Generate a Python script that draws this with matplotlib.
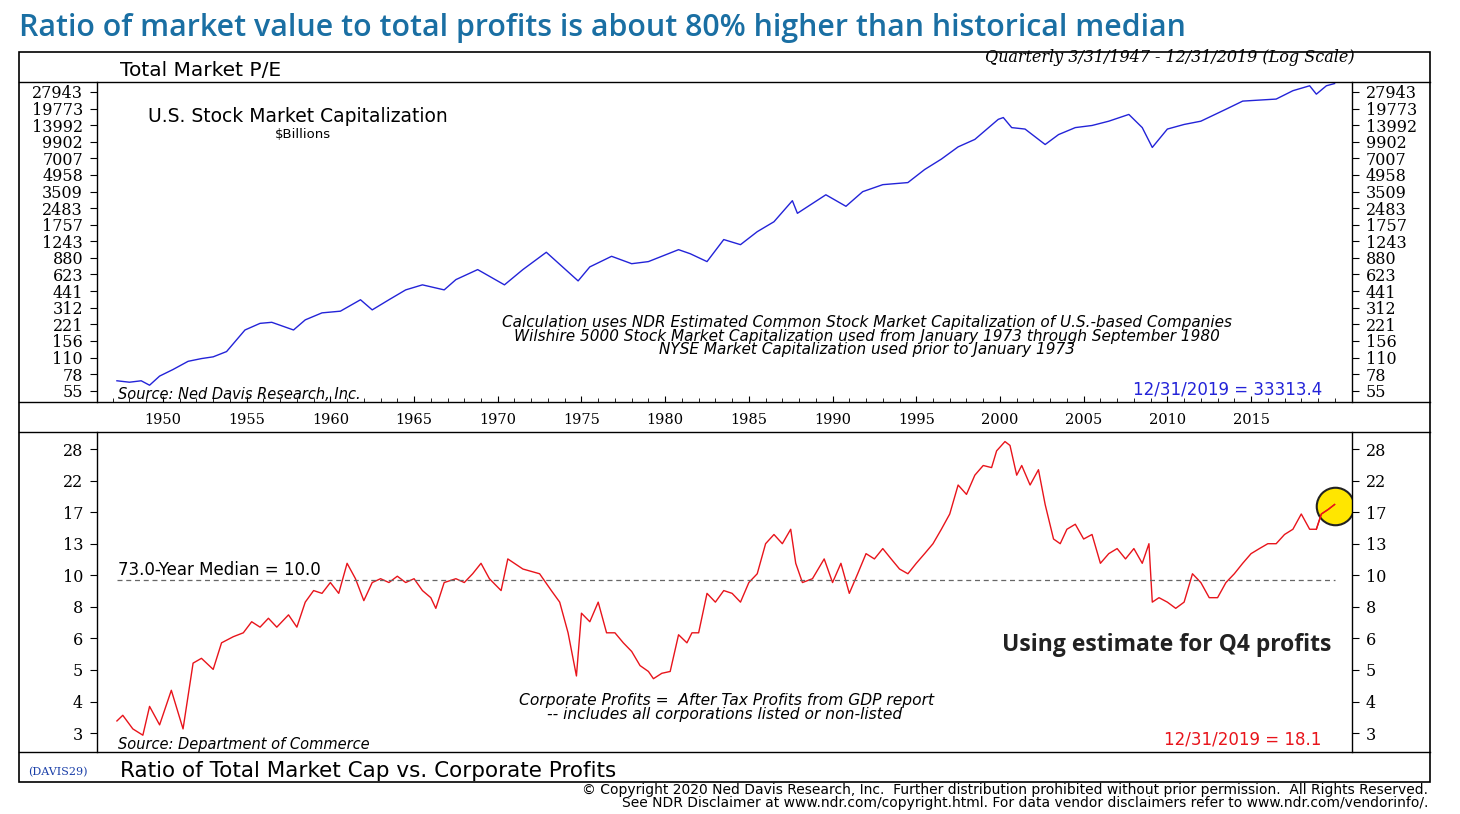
import matplotlib.pyplot as plt
from matplotlib.lines import Line2D
from matplotlib.patches import Rectangle

# U.S. stock market capitalization, $ billions
cap_years = [1947.25, 1948.0, 1948.7, 1949.2, 1949.8, 1950.6, 1951.5, 1952.3, 1953.0, 1953.8,
             1954.9, 1955.8, 1956.5, 1957.8, 1958.5, 1959.5, 1960.6, 1961.8, 1962.5, 1963.5,
             1964.5, 1965.5, 1966.8, 1967.5, 1968.8, 1970.4, 1971.5, 1972.9, 1973.5, 1974.8,
             1975.5, 1976.8, 1978.0, 1979.0, 1980.8, 1981.5, 1982.5, 1983.5, 1984.5, 1985.5,
             1986.5, 1987.6, 1987.9, 1989.6, 1990.8, 1991.8, 1993.0, 1994.5, 1995.5, 1996.5,
             1997.5, 1998.5, 1999.9, 2000.2, 2000.7, 2001.5, 2002.7, 2003.5, 2004.5, 2005.5,
             2006.5, 2007.7, 2008.5, 2009.1, 2010.0, 2011.0, 2012.0, 2013.5, 2014.5, 2015.5,
             2016.5, 2017.5, 2018.5, 2018.9, 2019.5, 2019.99]
cap_values = [68, 66, 68, 62, 75, 86, 102, 108, 112, 125,
              196, 225, 230, 196, 242, 280, 290, 368, 298, 368,
              452, 502, 452, 560, 690, 502, 690, 990, 820, 545,
              730, 910, 780, 815, 1045, 960, 815, 1290, 1160, 1520,
              1870, 2900, 2230, 3280, 2580, 3500, 4050, 4230, 5550, 6900,
              8900, 10400, 15800, 16400, 13300, 12900, 9350, 11500, 13300, 13900,
              15200, 17500, 13300, 8800, 12900, 14200, 15200, 19500, 23100, 23600,
              24100, 28700, 31800, 26700, 31800, 33313]

# Ratio of total market cap to corporate profits
pe_years = [1947.25, 1947.6, 1948.2, 1948.8, 1949.2, 1949.8, 1950.5, 1951.2, 1951.8, 1952.3,
            1953.0, 1953.5, 1954.2, 1954.8, 1955.3, 1955.8, 1956.3, 1956.8, 1957.5, 1958.0,
            1958.5, 1959.0, 1959.5, 1960.0, 1960.5, 1961.0, 1961.5, 1962.0, 1962.5, 1963.0,
            1963.5, 1964.0, 1964.5, 1965.0, 1965.5, 1966.0, 1966.3, 1966.8, 1967.5, 1968.0,
            1968.5, 1969.0, 1969.5, 1970.2, 1970.6, 1971.5, 1972.5, 1973.2, 1973.7, 1974.2,
            1974.7, 1975.0, 1975.5, 1976.0, 1976.5, 1977.0, 1977.5, 1978.0, 1978.5, 1979.0,
            1979.3, 1979.8, 1980.3, 1980.8, 1981.3, 1981.6, 1982.0, 1982.5, 1983.0, 1983.5,
            1984.0, 1984.5, 1985.0, 1985.5, 1986.0, 1986.5, 1987.0, 1987.5, 1987.8, 1988.2,
            1988.8, 1989.5, 1990.0, 1990.5, 1991.0, 1991.5, 1992.0, 1992.5, 1993.0, 1993.5,
            1994.0, 1994.5, 1995.0, 1995.5, 1996.0, 1996.5, 1997.0, 1997.5, 1998.0, 1998.5,
            1999.0, 1999.5, 1999.8, 2000.3, 2000.6, 2001.0, 2001.3, 2001.8, 2002.3, 2002.7,
            2003.2, 2003.6, 2004.0, 2004.5, 2005.0, 2005.5, 2006.0, 2006.5, 2007.0, 2007.5,
            2008.0, 2008.5, 2008.9, 2009.1, 2009.5, 2010.0, 2010.5, 2011.0, 2011.5, 2012.0,
            2012.5, 2013.0, 2013.5, 2014.0, 2014.5, 2015.0, 2015.5, 2016.0, 2016.5, 2017.0,
            2017.5, 2018.0, 2018.5, 2018.9, 2019.2, 2019.6, 2019.99]
pe_values = [3.3, 3.45, 3.1, 2.95, 3.7, 3.2, 4.2, 3.1, 5.2, 5.4,
             4.95, 6.1, 6.4, 6.6, 7.2, 6.9, 7.4, 6.9, 7.6, 6.9,
             8.4, 9.2, 9.0, 9.8, 9.0, 11.4, 10.1, 8.5, 9.8, 10.1,
             9.8, 10.3, 9.8, 10.1, 9.2, 8.7, 8.0, 9.8, 10.1, 9.8,
             10.5, 11.4, 10.1, 9.2, 11.8, 10.9, 10.5, 9.2, 8.4, 6.6,
             4.7, 7.7, 7.2, 8.4, 6.6, 6.6, 6.1, 5.7, 5.1, 4.87,
             4.6, 4.8, 4.87, 6.5, 6.1, 6.6, 6.6, 9.0, 8.4, 9.2,
             9.0, 8.4, 9.8, 10.5, 13.3, 14.3, 13.3, 14.9, 11.4, 9.8,
             10.1, 11.8, 9.8, 11.4, 9.0, 10.5, 12.3, 11.8, 12.8, 11.8,
             10.9, 10.5, 11.4, 12.3, 13.3, 14.9, 16.8, 21.1, 19.6, 22.8,
             24.6, 24.2, 27.6, 29.7, 28.8, 22.8, 24.6, 21.1, 23.8, 18.1,
             13.8, 13.3, 14.9, 15.5, 13.8, 14.3, 11.4, 12.3, 12.8, 11.8,
             12.8, 11.4, 13.3, 8.4, 8.7, 8.4, 8.0, 8.4, 10.5, 9.8,
             8.7, 8.7, 9.8, 10.5, 11.4, 12.3, 12.8, 13.3, 13.3, 14.3,
             14.9, 16.8, 14.9, 14.9, 16.8, 17.4, 18.1]

year_ticks = [1950, 1955, 1960, 1965, 1970, 1975, 1980, 1985, 1990, 1995, 2000, 2005, 2010, 2015]
cap_ticks = [55, 78, 110, 156, 221, 312, 441, 623, 880, 1243, 1757, 2483, 3509, 4958, 7007,
             9902, 13992, 19773, 27943]
pe_tick_labels = ["3", "4", "5", "6", "8", "10", "13", "17", "22", "28"]

W, H = 1460, 814
fig = plt.figure(figsize=(W / 100, H / 100), dpi=100)
serif = "DejaVu Serif"
sans = "DejaVu Sans"


def fx(px):
    return px / W


def fy(py):
    return 1 - py / H


xlim = (1946.06, 2021.03)
ax1 = fig.add_axes([fx(97), fy(402), fx(1255), 320 / H])
ax2 = fig.add_axes([fx(97), fy(752), fx(1255), 320 / H])

# top panel
ax1.plot(cap_years, cap_values, color="#2323d8", lw=1.0)
ax1.set_yscale("log")
ax1.set_ylim(43.7, 34400)
ax1.set_yticks(cap_ticks)
ax1.set_yticklabels([str(t) for t in cap_ticks])
ax1.minorticks_off()
ax1.set_xlim(*xlim)
ax1.set_xticks(year_ticks)
ax1.set_xticks(range(1947, 2021), minor=True)
ax1.tick_params(axis="x", which="both", direction="in", pad=8, labelsize=10.5, length=4)
ax1.tick_params(axis="x", which="minor", length=3)
for lab in ax1.get_xticklabels():
    lab.set_fontfamily(serif)

# bottom panel
r = (28 / 3) ** (1 / 9)
ax2.plot(pe_years, pe_values, color="#e8141b", lw=1.0)
ax2.plot([1947.25, 2019.99], [10.0, 10.0], color="#666666", lw=0.9, ls=(0, (4, 3)))
ax2.set_yscale("log")
ax2.set_ylim(3 * r ** (-0.6), 3 * r ** 9.54)
ax2.set_yticks([3 * r ** k for k in range(10)])
ax2.set_yticklabels(pe_tick_labels)
ax2.minorticks_off()
ax2.set_xlim(*xlim)
ax2.set_xticks([])
ax2.plot([2020.0], [17.9], "o", ms=27, mfc="#ffe600", mec="#222222", mew=1.5, zorder=1)
ax2.plot(pe_years[-4:], pe_values[-4:], color="#e8141b", lw=1.0, zorder=2)

for ax in (ax1, ax2):
    ax.tick_params(axis="y", which="both", left=True, right=True, labelleft=True,
                   labelright=True, direction="out", length=5, labelsize=11.5, pad=5)
    for lab in ax.get_yticklabels():
        lab.set_fontfamily(serif)
    for s in ax.spines.values():
        s.set_visible(False)
    ax.patch.set_alpha(0)

# frame lines
fig.add_artist(Rectangle((fx(19), fy(782)), fx(1411), (782 - 52) / H, transform=fig.transFigure,
                         fill=False, lw=1.2, ec="black"))
for py in (82, 402, 432, 752):
    fig.add_artist(Line2D([fx(19), fx(1430)], [fy(py), fy(py)], color="black", lw=1.0))
for px in (97, 1352):
    for y0, y1 in ((82, 402), (432, 752)):
        fig.add_artist(Line2D([fx(px), fx(px)], [fy(y0), fy(y1)], color="black", lw=1.0))

# texts
fig.text(fx(19), fy(28), "Ratio of market value to total profits is about 80% higher than historical median",
         color="#1a6fa3", fontsize=21.9, fontfamily="Open Sans", fontweight="semibold", va="center")
fig.text(fx(120), fy(70), "Total Market P/E", fontsize=14.5, fontfamily=sans, va="center")
fig.text(fx(1355), fy(58), "Quarterly 3/31/1947 - 12/31/2019 (Log Scale)", fontsize=11.5,
         fontfamily=serif, style="italic", ha="right", va="center")
fig.text(fx(148), fy(117), "U.S. Stock Market Capitalization", fontsize=13.5, fontfamily=sans, va="center")
fig.text(fx(303), fy(134), "$Billions", fontsize=9.5, fontfamily=sans, ha="center", va="center")
for i, t in enumerate(["Calculation uses NDR Estimated Common Stock Market Capitalization of U.S.-based Companies",
                       "Wilshire 5000 Stock Market Capitalization used from January 1973 through September 1980",
                       "NYSE Market Capitalization used prior to January 1973"]):
    fig.text(fx(867), fy(322 + 14 * i), t, fontsize=11, fontfamily=sans, style="italic",
             ha="center", va="center")
fig.text(fx(118), fy(394), "Source: Ned Davis Research, Inc.", fontsize=10.5, fontfamily=sans,
         style="italic", va="center")
fig.text(fx(1322), fy(390), "12/31/2019 = 33313.4", fontsize=12, fontfamily=sans, color="#2323d8",
         ha="right", va="center")
fig.text(fx(118), fy(570), "73.0-Year Median = 10.0", fontsize=12, fontfamily=sans, va="center")
fig.text(fx(1331), fy(645), "Using estimate for Q4 profits", fontsize=16.5, fontfamily="Open Sans",
         fontweight="bold", color="#222222", ha="right", va="center")
fig.text(fx(727), fy(701), "Corporate Profits =  After Tax Profits from GDP report", fontsize=11.2,
         fontfamily=sans, style="italic", ha="center", va="center")
fig.text(fx(725), fy(715), "-- includes all corporations listed or non-listed", fontsize=11.2,
         fontfamily=sans, style="italic", ha="center", va="center")
fig.text(fx(118), fy(745), "Source: Department of Commerce", fontsize=10.5, fontfamily=sans,
         style="italic", va="center")
fig.text(fx(1321), fy(740), "12/31/2019 = 18.1", fontsize=12, fontfamily=sans, color="#e8141b",
         ha="right", va="center")
fig.text(fx(28), fy(772), "(DAVIS29)", fontsize=8, fontfamily=serif, color="#1a3fa8", va="center")
fig.text(fx(120), fy(771), "Ratio of Total Market Cap vs. Corporate Profits", fontsize=15.5,
         fontfamily=sans, va="center")
fig.text(fx(1428), fy(790), "© Copyright 2020 Ned Davis Research, Inc.  Further distribution prohibited without prior permission.  All Rights Reserved.",
         fontsize=10, fontfamily=sans, ha="right", va="center")
fig.text(fx(1428), fy(803), "See NDR Disclaimer at www.ndr.com/copyright.html. For data vendor disclaimers refer to www.ndr.com/vendorinfo/.",
         fontsize=10, fontfamily=sans, ha="right", va="center")

fig.savefig("out.png", dpi=100)
